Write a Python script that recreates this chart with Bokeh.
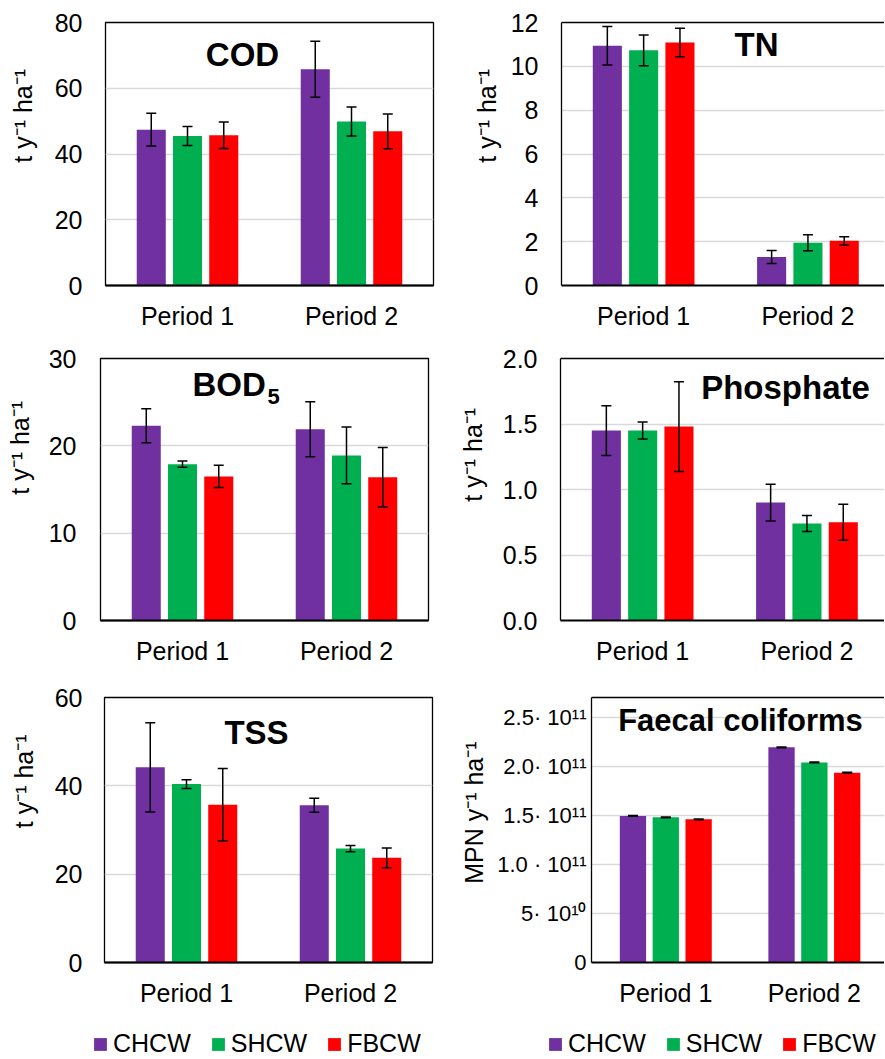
from bokeh.plotting import figure
from bokeh.models import (Range1d, FixedTicker, Whisker, TeeHead, ColumnDataSource,
                          Label, Legend, LegendItem, LinearAxis)
from bokeh.layouts import column, row
from bokeh.transform import dodge
from bokeh.embed import file_html
from bokeh.resources import INLINE

# ---------------- data ----------------
periods = ["Period 1", "Period 2"]
systems = ["CHCW", "SHCW", "FBCW"]
colors = ["#7030A0", "#00B050", "#FF0000"]

cod_values = [[47.4, 65.8], [45.5, 49.9], [45.7, 46.9]]
cod_errors = [[5.0, 8.5], [2.9, 4.4], [4.0, 5.3]]
cod_ticks = [0, 20, 40, 60, 80]

tn_values = [[10.94, 1.30], [10.73, 1.95], [11.09, 2.04]]
tn_errors = [[0.88, 0.30], [0.70, 0.36], [0.65, 0.19]]
tn_ticks = [0, 2, 4, 6, 8, 10, 12]

bod_values = [[22.3, 21.9], [17.9, 18.9], [16.5, 16.4]]
bod_errors = [[1.95, 3.15], [0.36, 3.25], [1.27, 3.4]]
bod_ticks = [0, 10, 20, 30]

phos_values = [[1.45, 0.90], [1.45, 0.74], [1.48, 0.75]]
phos_errors = [[0.19, 0.14], [0.065, 0.061], [0.343, 0.137]]
phos_ticks = [0.0, 0.5, 1.0, 1.5, 2.0]
phos_tick_labels = ["0.0", "0.5", "1.0", "1.5", "2.0"]

tss_values = [[44.2, 35.6], [40.4, 25.8], [35.7, 23.7]]
tss_errors = [[10.1, 1.6], [1.0, 0.7], [8.2, 2.25]]
tss_ticks = [0, 20, 40, 60]

fc_values = [[1.493e11, 2.192e11], [1.479e11, 2.038e11], [1.459e11, 1.934e11]]
fc_errors = [[4e8, 4e8], [4e8, 4e8], [4e8, 4e8]]
fc_ticks = [0, 5e10, 1.0e11, 1.5e11, 2.0e11, 2.5e11]
fc_tick_labels = ["0", "5\u00b7 10\u00b9\u2070", "1.0 \u00b7 10\u00b9\u00b9", "1.5\u00b7 10\u00b9\u00b9",
                  "2.0\u00b7 10\u00b9\u00b9", "2.5\u00b7 10\u00b9\u00b9"]

FONT = "Liberation Sans"
BAR_W = 0.177
OFFSETS = [-0.221, 0.0, 0.221]
NBSP = "\u00a0"


def make_panel(values, errors, ticks, ymax, title, ylabel, g, tick_labels=None,
               title_sub=None):
    p = figure(width=g["w"], height=g["h"], x_range=Range1d(-0.5, g["xend"]),
               y_range=Range1d(0, ymax), output_backend="svg", toolbar_location=None,
               min_border_left=g["bl"], min_border_right=g["br"],
               min_border_top=g["bt"], min_border_bottom=g["bb"])
    p.background_fill_color = "white"
    p.border_fill_color = "white"
    sources = []
    for i, s in enumerate(systems):
        src = ColumnDataSource(dict(
            x=list(range(len(periods))),
            top=values[i],
            upper=[v + e for v, e in zip(values[i], errors[i])],
            lower=[v - e for v, e in zip(values[i], errors[i])],
        ))
        sources.append(src)
        p.vbar(x=dodge("x", OFFSETS[i]), top="top", width=BAR_W, source=src,
               fill_color=colors[i], line_color=None)
        w = Whisker(base=dodge("x", OFFSETS[i]), upper="upper", lower="lower", source=src,
                    line_color="black", line_width=1.5, level="annotation",
                    upper_head=TeeHead(size=10, line_width=1.5, line_color="black"),
                    lower_head=TeeHead(size=10, line_width=1.5, line_color="black"))
        p.add_layout(w)

    # x axis
    xa = p.xaxis[0]
    xa.ticker = FixedTicker(ticks=list(range(len(periods))))
    xa.major_label_overrides = {i: lab for i, lab in enumerate(periods)}
    xa.major_tick_line_color = None
    xa.minor_tick_line_color = None
    xa.major_tick_out = 0
    xa.minor_tick_out = 0
    xa.axis_line_color = "black"
    xa.axis_line_width = 2
    xa.major_label_text_font = FONT
    xa.major_label_text_font_size = "25px"
    xa.major_label_text_color = "black"
    xa.major_label_standoff = g["xs"]

    # y axis
    ya = p.yaxis[0]
    ya.ticker = FixedTicker(ticks=ticks)
    if tick_labels is not None:
        ya.major_label_overrides = {t: l for t, l in zip(ticks, tick_labels)}
    ya.major_tick_line_color = None
    ya.minor_tick_line_color = None
    ya.major_tick_out = 0
    ya.minor_tick_out = 0
    ya.major_label_text_font = FONT
    ya.major_label_text_font_size = g.get("yfs", "25px")
    ya.major_label_text_color = "black"
    ya.major_label_standoff = g["ys"]
    ya.axis_label = NBSP * g["pad"] + ylabel
    ya.axis_label_text_font = FONT
    ya.axis_label_text_font_size = "25px"
    ya.axis_label_text_font_style = "normal"
    ya.axis_label_text_color = "black"
    ya.axis_label_standoff = g["ls"]

    p.xgrid.visible = False
    p.ygrid.ticker = FixedTicker(ticks=ticks)
    p.ygrid.grid_line_color = "#d9d9d9"
    p.ygrid.grid_line_width = 1.3

    if g["right"]:
        p.outline_line_color = None
        ya.axis_line_color = "black"
        ya.axis_line_width = 1.3
        top = LinearAxis(ticker=FixedTicker(ticks=[]), axis_line_color="black",
                         axis_line_width=1.3, major_tick_line_color=None,
                         minor_tick_line_color=None, major_tick_out=0, minor_tick_out=0,
                         major_label_text_font_size="0px")
        p.add_layout(top, "above")
    else:
        p.outline_line_color = "black"
        p.outline_line_width = 1.3
        ya.axis_line_color = None

    # title inside the plot
    p.add_layout(Label(x=g["tx"], y=g["ty"], x_units="screen", y_units="screen",
                       text=title, text_font=FONT, text_font_style="bold",
                       text_font_size=g.get("tfs", "33px"), text_color="black",
                       text_align=g.get("talign", "center"), text_baseline="middle"))
    if title_sub is not None:
        p.add_layout(Label(x=g["sx"], y=g["sy"], x_units="screen", y_units="screen",
                           text=title_sub, text_font=FONT, text_font_style="bold",
                           text_font_size="22px", text_color="black",
                           text_align="left", text_baseline="middle"))
    return p, sources


def make_legend(width, height, loc, sources):
    p = figure(width=width, height=height, x_range=Range1d(0, 1), y_range=Range1d(0, 1),
               output_backend="svg", toolbar_location=None,
               x_axis_location=None, y_axis_location=None,
               min_border_left=0, min_border_right=0, min_border_top=0, min_border_bottom=0)
    p.grid.visible = False
    p.outline_line_color = None
    p.background_fill_color = "white"
    p.border_fill_color = "white"
    items = []
    for i, s in enumerate(systems):
        # same series data, hidden: only used to key the legend swatch
        r = p.vbar(x="x", top="top", width=BAR_W, source=sources[i],
                   fill_color=colors[i], line_color=None, visible=False)
        items.append(LegendItem(label=s, renderers=[r]))
    lg = Legend(items=items, location=loc, orientation="horizontal",
                glyph_width=16, glyph_height=16, label_standoff=5, spacing=19,
                padding=0, margin=0, border_line_color=None,
                background_fill_alpha=0, label_text_font=FONT,
                label_text_font_size="25px", label_text_color="black",
                inactive_fill_alpha=0)
    p.add_layout(lg)
    return p


YL = "t y\u207b\u00b9 ha\u207b\u00b9"

p1, _ = make_panel(cod_values, cod_errors, cod_ticks, 80, "COD", YL,
                   dict(w=440, h=340, xend=1.5, bl=105, br=7, bt=22, bb=54, right=False,
                        xs=16, ys=23, tx=137, ty=231, pad=11, ls=15))
p2, _ = make_panel(tn_values, tn_errors, tn_ticks, 12, "TN", YL,
                   dict(w=444, h=340, xend=1.466, bl=121, br=0, bt=21, bb=55, right=True,
                        xs=16, ys=23, tx=195, ty=241, pad=11, ls=7))
p3, _ = make_panel(bod_values, bod_errors, bod_ticks, 30, "BOD", YL,
                   dict(w=440, h=340, xend=1.5, bl=100, br=12, bt=16, bb=60, right=False,
                        xs=16, ys=24, tx=92, ty=236, talign="left", sx=167, sy=224,
                        pad=12, ls=12), title_sub="5")
p4, _ = make_panel(phos_values, phos_errors, phos_ticks, 2.0, "Phosphate", YL,
                   dict(w=444, h=340, xend=1.472, bl=120, br=0, bt=18, bb=60, right=True,
                        xs=16, ys=23, tx=225, ty=233, pad=10, ls=13),
                   tick_labels=phos_tick_labels)
p5, tss_sources = make_panel(tss_values, tss_errors, tss_ticks, 60, "TSS", YL,
                             dict(w=440, h=330, xend=1.5, bl=104, br=8, bt=17, bb=48,
                                  right=False, xs=16, ys=22, tx=152, ty=230, pad=14, ls=14))
p6, fc_sources = make_panel(fc_values, fc_errors, fc_ticks, 2.7e11, "Faecal coliforms",
                            "MPN y\u207b\u00b9 ha\u207b\u00b9",
                            dict(w=444, h=330, xend=1.472, bl=151, br=0, bt=13, bb=48,
                                 right=True, xs=16, ys=5, tx=149, ty=242, tfs="31px",
                                 yfs="22px", pad=5, ls=6),
                            tick_labels=fc_tick_labels)

leg1 = make_legend(440, 48, (92, 0), tss_sources)
leg2 = make_legend(444, 48, (107, 0), fc_sources)

layout = column(row(p1, p2), row(p3, p4), row(p5, p6), row(leg1, leg2))
open("out.html", "w").write(file_html(layout, INLINE))
